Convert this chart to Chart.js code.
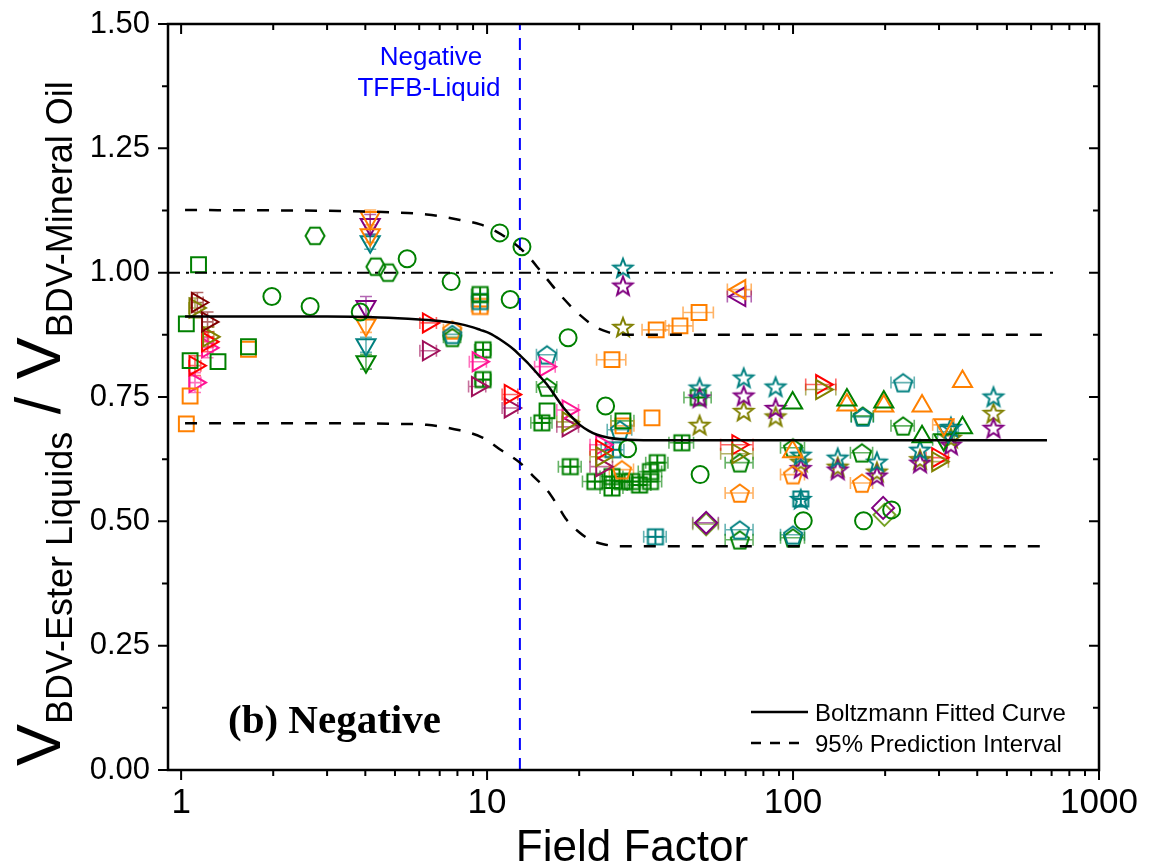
<!DOCTYPE html>
<html>
<head>
<meta charset="utf-8">
<script src="https://cdn.jsdelivr.net/npm/chart.js@4.4.0/dist/chart.umd.min.js"></script>
<style>
  html, body { margin: 0; padding: 0; background: #fff; }
</style>
</head>
<body>
<canvas id="chart" width="1154" height="865"></canvas>
<script>
// Field factor vs. BDV ratio, negative polarity
// each point: [field factor, ratio, x error, y error]

const greenSquares = [[1.14, 1.016], [1.04, 0.897], [1.07, 0.823], [1.32, 0.821], [1.66, 0.851], [15.7, 0.722], [27.8, 0.702, 2.4]];
const orangeSquares = [[1.07, 0.752], [1.04, 0.696], [1.66, 0.846], [25.6, 0.825, 2.8], [35.7, 0.885, 3.6], [42.7, 0.893, 4.4], [49.3, 0.920, 5.6], [34.6, 0.708], [27.8, 0.692, 2.4]];
const greenCircles = [[1.98, 0.952], [2.64, 0.932], [3.85, 0.921], [5.48, 1.028], [7.63, 0.982], [11.0, 1.080], [13.0, 1.052], [11.9, 0.946], [18.4, 0.869], [24.4, 0.732], [28.8, 0.646], [49.7, 0.594], [108, 0.501], [170, 0.501], [210, 0.523]];
const greenHexagons = [[2.74, 1.074], [4.33, 1.012], [4.75, 1.000]];

const downOrange = [[4.15, 1.111, 0, 0.015], [4.15, 1.076, 0, 0.015], [4.02, 0.895, 0, 0.015], [311, 0.694, 25]];
const downPurple = [[4.15, 1.097, 0, 0.02], [4.02, 0.932, 0, 0.02]];
const downTeal = [[4.15, 1.062, 0, 0.015], [4.02, 0.855, 0, 0.015], [322, 0.680, 25]];
const downGreen = [[4.02, 0.821, 0, 0.015], [311, 0.664, 25]];

const rightMaroon = [[1.13, 0.940, 0.05, 0.02], [1.22, 0.901, 0.05, 0.02]];
const rightOlive = [[1.11, 0.929, 0.05, 0.02], [1.23, 0.871, 0.05, 0.02], [18.4, 0.700, 1.5], [23.7, 0.630, 2], [66, 0.636, 8], [124, 0.765, 14], [297, 0.620, 25]];
const rightRed = [[1.22, 0.861, 0.05, 0.02], [1.11, 0.813, 0.05, 0.02], [6.43, 0.899, 0.4], [11.9, 0.755, 0.7], [23.7, 0.644, 2], [66, 0.654, 8], [124, 0.775, 14], [297, 0.628, 25]];
const rightPink = [[1.22, 0.849, 0.05, 0.02], [1.11, 0.779, 0.05, 0.02], [9.35, 0.821, 0.6], [15.5, 0.811, 1.2], [18.4, 0.724, 1.5], [23.7, 0.654, 2]];
const rightWine = [[6.43, 0.843, 0.4], [9.3, 0.771, 0.6], [11.9, 0.728, 0.7], [18.4, 0.690, 1.5], [23.7, 0.610, 2]];

const leftOrange = [[67, 0.966, 6]];
const leftPurple = [[67, 0.952, 6]];

const upGreen = [[99.7, 0.738], [150, 0.744], [198, 0.740], [264, 0.670], [358, 0.688]];
const upOrange = [[99.7, 0.640], [150, 0.734], [198, 0.732], [264, 0.732], [358, 0.781]];

const pentTeal = [[15.7, 0.835, 1.2], [27.2, 0.684, 2.5], [7.7, 0.876, 0.5], [67, 0.483, 7], [100, 0.473, 9], [169, 0.710, 14], [229, 0.779, 20]];
const pentGreen = [[7.7, 0.870, 0.5], [15.7, 0.770, 1.2], [67, 0.618, 7], [67, 0.463, 7], [100, 0.648, 9], [100, 0.467, 9], [168, 0.638, 14], [169, 0.712, 14], [229, 0.692, 20]];
const pentOrange = [[7.7, 0.885, 0.5], [27.6, 0.604, 2.5], [67, 0.557, 7], [100, 0.594, 9], [168, 0.577, 14]];

const starTeal = [[27.8, 1.010], [49.5, 0.769], [69, 0.789], [87.7, 0.771], [106, 0.634], [106, 0.545], [140, 0.628], [188, 0.620], [260, 0.644], [328, 0.690], [452, 0.751]];
const starPurple = [[27.8, 0.974], [49.5, 0.749], [69, 0.753], [87.7, 0.728], [106, 0.607], [140, 0.604], [188, 0.592], [260, 0.618], [328, 0.654], [452, 0.688]];
const starOlive = [[27.8, 0.891], [49.5, 0.694], [69, 0.722], [87.7, 0.711], [106, 0.620], [140, 0.610], [188, 0.600], [260, 0.625], [328, 0.668], [452, 0.718]];

const diamondPurple = [[52, 0.497, 5], [197, 0.527]];
const diamondLime = [[52, 0.494, 5], [199, 0.513]];

const crossGreen = [[9.49, 0.956, 0.6], [9.7, 0.845, 0.6], [9.7, 0.785, 0.6], [15.1, 0.698, 1.2], [18.7, 0.610, 1.6], [22.5, 0.580, 2], [25.6, 0.567, 2.2], [25.6, 0.590, 2.2], [27.6, 0.580, 2.4], [29.8, 0.580, 2.6], [31.5, 0.573, 2.8], [34.2, 0.580, 3], [34.2, 0.600, 3], [36, 0.618, 3], [43.3, 0.658, 4], [49, 0.749, 5]];
const crossTeal = [[9.49, 0.942, 0.6], [25.8, 0.644, 2.2], [35.5, 0.469, 3], [106, 0.545]];
const crossOrange = [[9.49, 0.932, 0.6]];

// Boltzmann fit and 95% prediction band
const fitX = [1.03, 3, 4.47, 6, 7, 7.98, 9, 9.5, 10.2, 11, 12.2, 12.8, 13.5, 14.7, 15.7, 16.7, 17.7, 18.9, 20.1, 21.5, 22.9, 25, 27.2, 35, 676];
const fitY = [0.912, 0.912, 0.910, 0.906, 0.903, 0.898, 0.890, 0.885, 0.878, 0.866, 0.846, 0.834, 0.820, 0.795, 0.775, 0.752, 0.730, 0.710, 0.694, 0.682, 0.674, 0.668, 0.665, 0.663, 0.663];
const upperX = [1.03, 3.3, 5, 6.35, 8.15, 9.5, 10.4, 12.2, 13.5, 15.1, 17.3, 20.1, 22.9, 25, 27.2, 35, 676];
const upperY = [1.126, 1.124, 1.121, 1.117, 1.106, 1.097, 1.087, 1.060, 1.036, 1.000, 0.956, 0.915, 0.889, 0.880, 0.876, 0.875, 0.875];
const lowerX = [1.03, 3.3, 5, 6.35, 8.15, 9.7, 11, 12.8, 14.2, 15.7, 17, 18.2, 20, 21.7, 24, 27.2, 35, 676];
const lowerY = [0.697, 0.697, 0.696, 0.694, 0.683, 0.668, 0.645, 0.618, 0.590, 0.563, 0.532, 0.503, 0.478, 0.463, 0.454, 0.450, 0.450, 0.450];
const unityX = [0.906, 729];
const unityY = [1, 1];
const tffbX = [12.8, 12.8];
const tffbY = [0, 1.5];

const yTicks = [0, 0.25, 0.5, 0.75, 1.0, 1.25, 1.5];
const xTicks = [1, 10, 100, 1000];

const GREEN = '#008000', ORANGE = '#FF8000', TEAL = '#008080', PURPLE = '#800080',
  OLIVE = '#808000', RED = '#FF0000', PINK = '#FF1493', MAROON = '#800000',
  WINE = '#A0105A', LIME = '#76A226';

Chart.defaults.font.family = "'Liberation Sans', Arial, sans-serif";
Chart.defaults.color = '#000';

// hollow markers that Chart.js has no built-in style for
function marker(shape, color) {
  const s = 28, m = s / 2;
  const c = document.createElement('canvas');
  c.width = c.height = s;
  const g = c.getContext('2d');
  g.strokeStyle = color;
  g.lineWidth = 2;
  g.beginPath();
  if (shape === 'hex') {
    for (let k = 0; k < 6; k++) {
      const a = k * Math.PI / 3;
      g.lineTo(m + 9.5 * Math.cos(a), m + 9.5 * Math.sin(a));
    }
    g.closePath();
  } else if (shape === 'pent') {
    for (let k = 0; k < 5; k++) {
      const a = -Math.PI / 2 + k * 2 * Math.PI / 5;
      g.lineTo(m + 9.5 * Math.cos(a), m + 1 + 9.5 * Math.sin(a));
    }
    g.closePath();
  } else if (shape === 'star') {
    for (let k = 0; k < 10; k++) {
      const a = -Math.PI / 2 + k * Math.PI / 5;
      const r = k % 2 ? 4.2 : 10;
      g.lineTo(m + r * Math.cos(a), m + 1 + r * Math.sin(a));
    }
    g.closePath();
  } else if (shape === 'cross') {
    g.rect(m - 7.5, m - 7.5, 15, 15);
    g.moveTo(m, m - 7.5); g.lineTo(m, m + 7.5);
    g.moveTo(m - 7.5, m); g.lineTo(m + 7.5, m);
  }
  g.stroke();
  return c;
}

function pts(arr) {
  return arr.map(p => ({ x: p[0], y: p[1], ex: p[2] || 0, ey: p[3] || 0 }));
}

function markers(arr, color, style, extra) {
  const ds = {
    data: pts(arr),
    showLine: false,
    pointBorderColor: color,
    pointBackgroundColor: 'rgba(0,0,0,0)',
    pointBorderWidth: 2,
    errColor: color + '99',
    pointStyle: style,
    pointRadius: 9
  };
  if (typeof style !== 'string') ds.pointStyle = marker(style.shape, color);
  return Object.assign(ds, extra || {});
}

function curve(xs, ys, dash, extra) {
  return Object.assign({
    data: xs.map((v, i) => ({ x: v, y: ys[i] })),
    showLine: true,
    borderColor: '#000',
    borderWidth: 2.5,
    borderDash: dash,
    pointRadius: 0,
    cubicInterpolationMode: 'monotone',
    fill: false
  }, extra || {});
}

const datasets = [
  curve(fitX, fitY, []),
  curve(upperX, upperY, [12, 12]),
  curve(lowerX, lowerY, [12, 12]),
  curve(unityX, unityY, [12, 6, 3, 6], { borderWidth: 2, cubicInterpolationMode: 'default' }),
  curve(tffbX, tffbY, [12, 8], { borderColor: '#0000FF', borderWidth: 2, cubicInterpolationMode: 'default' }),

  markers(greenSquares, GREEN, 'rect', { pointRadius: 10.5 }),
  markers(orangeSquares, ORANGE, 'rect', { pointRadius: 10.5 }),
  markers(greenCircles, GREEN, 'circle', { pointRadius: 8.5 }),
  markers(greenHexagons, GREEN, { shape: 'hex' }),
  markers(downOrange, ORANGE, 'triangle', { pointRotation: 180, pointRadius: 11 }),
  markers(downPurple, PURPLE, 'triangle', { pointRotation: 180, pointRadius: 11 }),
  markers(downTeal, TEAL, 'triangle', { pointRotation: 180, pointRadius: 11 }),
  markers(downGreen, GREEN, 'triangle', { pointRotation: 180, pointRadius: 11 }),
  markers(rightMaroon, MAROON, 'triangle', { pointRotation: 90, pointRadius: 11 }),
  markers(rightOlive, OLIVE, 'triangle', { pointRotation: 90, pointRadius: 11 }),
  markers(rightRed, RED, 'triangle', { pointRotation: 90, pointRadius: 11 }),
  markers(rightPink, PINK, 'triangle', { pointRotation: 90, pointRadius: 11 }),
  markers(rightWine, WINE, 'triangle', { pointRotation: 90, pointRadius: 11 }),
  markers(leftOrange, ORANGE, 'triangle', { pointRotation: 270, pointRadius: 11 }),
  markers(leftPurple, PURPLE, 'triangle', { pointRotation: 270, pointRadius: 11 }),
  markers(upGreen, GREEN, 'triangle', { pointRadius: 11 }),
  markers(upOrange, ORANGE, 'triangle', { pointRadius: 11 }),
  markers(pentTeal, TEAL, { shape: 'pent' }),
  markers(pentGreen, GREEN, { shape: 'pent' }),
  markers(pentOrange, ORANGE, { shape: 'pent' }),
  markers(starTeal, TEAL, { shape: 'star' }),
  markers(starPurple, PURPLE, { shape: 'star' }),
  markers(starOlive, OLIVE, { shape: 'star' }),
  markers(diamondPurple, PURPLE, 'rectRot', { pointRadius: 11 }),
  markers(diamondLime, LIME, 'rectRot', { pointRadius: 11 }),
  markers(crossGreen, GREEN, { shape: 'cross' }),
  markers(crossTeal, TEAL, { shape: 'cross' }),
  markers(crossOrange, ORANGE, { shape: 'cross' })
];

// horizontal / vertical error bars with caps
const errorBars = {
  id: 'errorBars',
  beforeDatasetsDraw(chart) {
    const { ctx, scales: { x, y } } = chart;
    ctx.save();
    ctx.lineWidth = 1.6;
    chart.data.datasets.forEach(ds => {
      if (!ds.errColor) return;
      ctx.strokeStyle = ds.errColor;
      ds.data.forEach(p => {
        const px = x.getPixelForValue(p.x), py = y.getPixelForValue(p.y);
        ctx.beginPath();
        if (p.ex) {
          const a = x.getPixelForValue(p.x - p.ex), b = x.getPixelForValue(p.x + p.ex);
          ctx.moveTo(a, py); ctx.lineTo(b, py);
          ctx.moveTo(a, py - 6); ctx.lineTo(a, py + 6);
          ctx.moveTo(b, py - 6); ctx.lineTo(b, py + 6);
        }
        if (p.ey) {
          const a = y.getPixelForValue(p.y - p.ey), b = y.getPixelForValue(p.y + p.ey);
          ctx.moveTo(px, a); ctx.lineTo(px, b);
          ctx.moveTo(px - 6, a); ctx.lineTo(px + 6, a);
          ctx.moveTo(px - 6, b); ctx.lineTo(px + 6, b);
        }
        ctx.stroke();
      });
    });
    ctx.restore();
  }
};

// box frame with major/minor ticks (out on left/bottom, in on top/right)
const frame = {
  id: 'frame',
  afterDraw(chart) {
    const { ctx, chartArea: a, scales: { x, y } } = chart;
    ctx.save();
    ctx.strokeStyle = '#000';
    ctx.lineWidth = 2.5;
    ctx.strokeRect(a.left, a.top, a.right - a.left, a.bottom - a.top);
    ctx.lineWidth = 2;
    ctx.beginPath();
    for (let v = 0; v <= 1.5001; v += 0.125) {
      const py = y.getPixelForValue(v);
      const len = Math.abs(v / 0.25 - Math.round(v / 0.25)) < 1e-6 ? 10 : 6;
      ctx.moveTo(a.left - len, py); ctx.lineTo(a.left, py);
      ctx.moveTo(a.right - len, py); ctx.lineTo(a.right, py);
    }
    for (let d = 1; d <= 1000; d *= 10) {
      for (let k = 1; k <= 9; k++) {
        const v = d * k;
        if (v > 1000) break;
        const px = x.getPixelForValue(v);
        const len = k === 1 ? 10 : 6;
        ctx.moveTo(px, a.bottom); ctx.lineTo(px, a.bottom + len);
        ctx.moveTo(px, a.top); ctx.lineTo(px, a.top + len);
      }
    }
    ctx.stroke();
    ctx.restore();
  }
};

// axis titles (with subscripts), annotations and legend
const labels = {
  id: 'labels',
  afterDraw(chart) {
    const { ctx } = chart;
    const big = "63px 'Liberation Sans', Arial, sans-serif";
    const sub = "36px 'Liberation Sans', Arial, sans-serif";
    ctx.save();
    ctx.fillStyle = '#000';
    ctx.textBaseline = 'alphabetic';

    ctx.save();
    ctx.translate(60, 766);
    ctx.rotate(-Math.PI / 2);
    let pos = 0;
    [['V', big, 0], ['BDV-Ester Liquids', sub, 12], [' / ', big, 0], ['V', big, 0], ['BDV-Mineral Oil', sub, 12]].forEach(s => {
      ctx.font = s[1];
      ctx.fillText(s[0], pos, s[2]);
      pos += ctx.measureText(s[0]).width;
    });
    ctx.restore();

    ctx.font = "44px 'Liberation Sans', Arial, sans-serif";
    ctx.textAlign = 'center';
    ctx.fillText('Field Factor', 632, 861);

    ctx.fillStyle = '#0000FF';
    ctx.font = "26px 'Liberation Sans', Arial, sans-serif";
    ctx.fillText('Negative', 431, 65);
    ctx.fillText('TFFB-Liquid', 429, 96);

    ctx.fillStyle = '#000';
    ctx.textAlign = 'left';
    ctx.font = "bold 41px 'Liberation Serif', 'Times New Roman', serif";
    ctx.fillText('(b) Negative', 228, 733);

    ctx.font = "24px 'Liberation Sans', Arial, sans-serif";
    ctx.fillText('Boltzmann Fitted Curve', 815, 721);
    ctx.fillText('95% Prediction Interval', 815, 752);
    ctx.lineWidth = 2.5;
    ctx.strokeStyle = '#000';
    ctx.beginPath();
    ctx.moveTo(751, 712); ctx.lineTo(808, 712);
    ctx.stroke();
    ctx.setLineDash([10, 9]);
    ctx.beginPath();
    ctx.moveTo(751, 743); ctx.lineTo(808, 743);
    ctx.stroke();
    ctx.restore();
  }
};

new Chart(document.getElementById('chart'), {
  type: 'scatter',
  data: { datasets: datasets },
  options: {
    responsive: false,
    animation: false,
    events: [],
    layout: { padding: { top: 24, right: 55, left: 0, bottom: 0 } },
    plugins: { legend: { display: false }, tooltip: { enabled: false } },
    scales: {
      x: {
        type: 'logarithmic',
        min: 0.906,
        max: 1000,
        grid: { display: false, drawTicks: false },
        border: { display: false },
        afterBuildTicks: s => { s.ticks = xTicks.map(v => ({ value: v })); },
        afterFit: s => { s.height = 95; s.paddingLeft = 0; s.paddingRight = 0; },
        ticks: {
          autoSkip: false,
          maxRotation: 0,
          padding: 12,
          font: { size: 35 },
          callback: v => String(v)
        }
      },
      y: {
        min: 0,
        max: 1.5,
        grid: { display: false, drawTicks: false },
        border: { display: false },
        afterBuildTicks: s => { s.ticks = yTicks.map(v => ({ value: v })); },
        afterFit: s => { s.width = 168; s.paddingTop = 0; s.paddingBottom = 0; },
        ticks: {
          padding: 18,
          font: { size: 31 },
          callback: v => v.toFixed(2)
        }
      }
    }
  },
  plugins: [errorBars, frame, labels]
});
</script>
</body>
</html>
